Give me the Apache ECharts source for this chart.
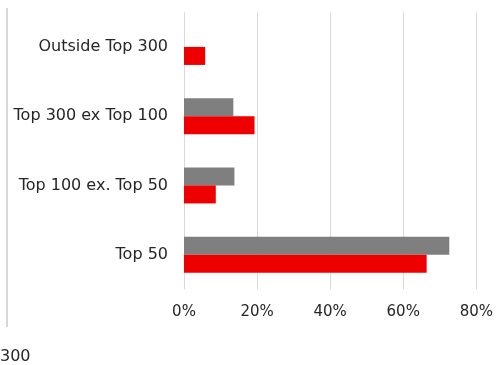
<!DOCTYPE html>
<html><head><meta charset="utf-8">
<script src="https://cdn.jsdelivr.net/npm/echarts@6/dist/echarts.min.js"></script>
<style>html,body{margin:0;padding:0;background:#fff}#c{width:496px;height:365px}</style>
</head><body><div id="c"></div>
<script>
const categories = ['Top 50', 'Top 100 ex. Top 50', 'Top 300 ex Top 100', 'Outside Top 300'];
const redValues = [66.4, 8.7, 19.3, 5.8];
const grayValues = [72.6, 13.8, 13.5, null];
const xTicks = [0, 20, 40, 60, 80];

const chart = echarts.init(document.getElementById('c'), null, {renderer: 'canvas'});
const font = 'Century Gothic, DejaVu Sans, sans-serif';
chart.setOption({
  animation: false,
  grid: {left: 184, right: 17.7, top: 12.3, bottom: 75.7, containLabel: false},
  xAxis: {
    type: 'value', min: xTicks[0], max: xTicks[xTicks.length - 1], interval: 20,
    axisLine: {show: false}, axisTick: {show: false},
    splitLine: {show: true, lineStyle: {color: '#d9d9d9', width: 1}},
    axisLabel: {formatter: v => v + '%', color: '#262626', fontSize: 15, fontFamily: font, margin: 15}
  },
  yAxis: {
    type: 'category', data: categories,
    axisLine: {show: false}, axisTick: {show: false},
    axisLabel: {color: '#262626', fontSize: 16, fontFamily: font, margin: 16}
  },
  series: [
    {type: 'bar', data: grayValues, barGap: '0%', barCategoryGap: '48%',
     itemStyle: {color: '#7f7f7f'}},
    {type: 'bar', data: redValues, barGap: '0%', barCategoryGap: '48%',
     itemStyle: {color: '#ee0000'}}
  ],
  graphic: [
    {type: 'line', shape: {x1: 7, y1: 8, x2: 7, y2: 327}, style: {stroke: '#b0b0b0', lineWidth: 1}},
    {type: 'text', left: 0, top: 349, style: {text: '300', fill: '#262626', font: '16px ' + font}}
  ]
});
</script></body></html>
